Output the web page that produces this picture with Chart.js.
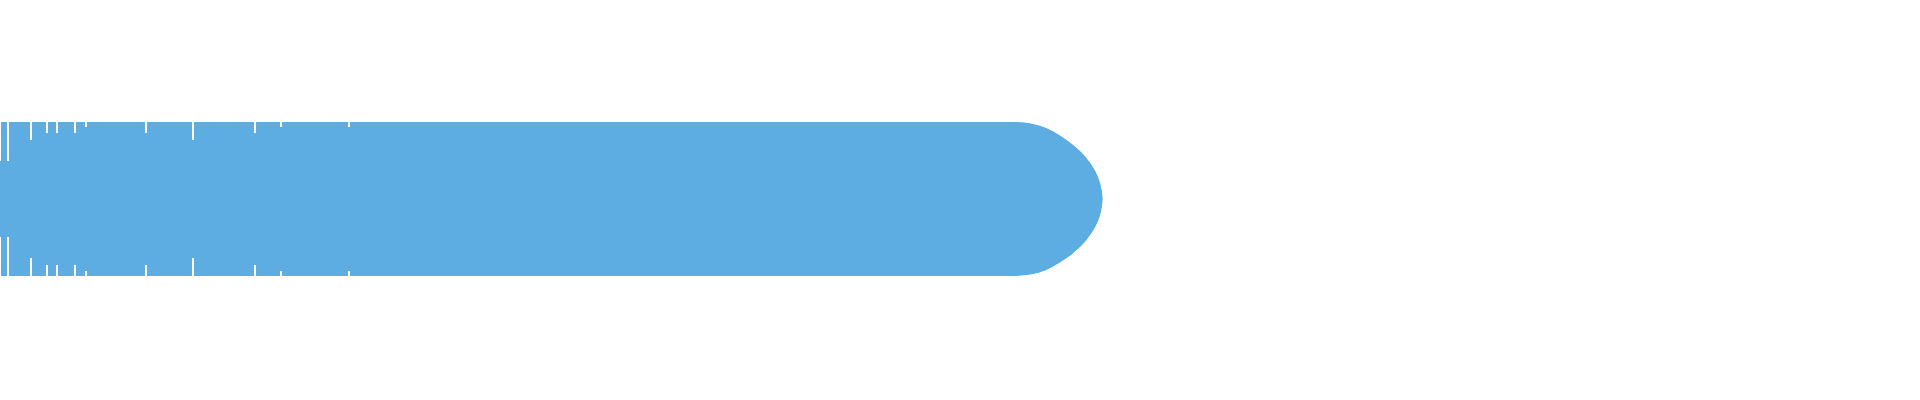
<!DOCTYPE html>
<html>
<head>
<meta charset="utf-8">
<title>chart</title>
<script src="https://cdn.jsdelivr.net/npm/chart.js@4/dist/chart.umd.min.js"></script>
<style>
  html,body{margin:0;padding:0;background:#fff;}
  #wrap{width:1920px;height:400px;position:relative;}
</style>
</head>
<body>
<div id="wrap"><canvas id="c"></canvas></div>
<script>
// ===== data (x axis 0..192) =====
const labels = [''];
// each level is one stack of segments, outermost (thickest) first
const level0 = [0.8, 2.3, 1.6, 1.0, 1.8, 1.1, 6.0, 4.7, 6.2, 2.6, 6.8, 74.46];
const level1 = [0.8, 2.3, 1.6, 1.0, 1.8, 7.1, 4.7, 6.2, 84.29];
const level2 = [0.8, 2.3, 16.2, 90.79];
const level3 = [0.8, 109.45];
const level4 = [110.26];
const X_MAX = 192;

// ===== style =====
const BLUE = '#5DADE2';
const levels = [level0, level1, level2, level3, level4];
const thickness = [154, 144, 132, 118, 76];   // px
const endRadius = [77, 72, 66, 59, 38];       // px, rounded end of last segment

const datasets = [];
levels.forEach((segs, lv) => {
  segs.forEach((v, i) => {
    const last = i === segs.length - 1;
    const single = segs.length === 1;
    datasets.push({
      label: 'L' + lv + '-' + i,
      data: [v],
      stack: 'L' + lv,
      order: levels.length - 1 - lv,
      backgroundColor: BLUE,
      borderColor: '#ffffff',
      borderWidth: { top: 0, bottom: 0, left: single ? 0 : 1, right: last ? 0 : 1 },
      borderSkipped: false,
      borderRadius: last ? { topRight: endRadius[lv], bottomRight: endRadius[lv], topLeft: 0, bottomLeft: 0 } : 0,
      barThickness: thickness[lv],
      grouped: false,
      inflateAmount: 0
    });
  });
});

new Chart(document.getElementById('c'), {
  type: 'bar',
  data: { labels, datasets },
  options: {
    indexAxis: 'y',
    responsive: true,
    maintainAspectRatio: false,
    animation: false,
    layout: { padding: { left: 0, right: 0, top: 0, bottom: 2 } },
    plugins: { legend: { display: false }, tooltip: { enabled: false } },
    scales: {
      x: { display: false, stacked: true, min: 0, max: X_MAX },
      y: { display: false }
    }
  }
});
</script>
</body>
</html>
